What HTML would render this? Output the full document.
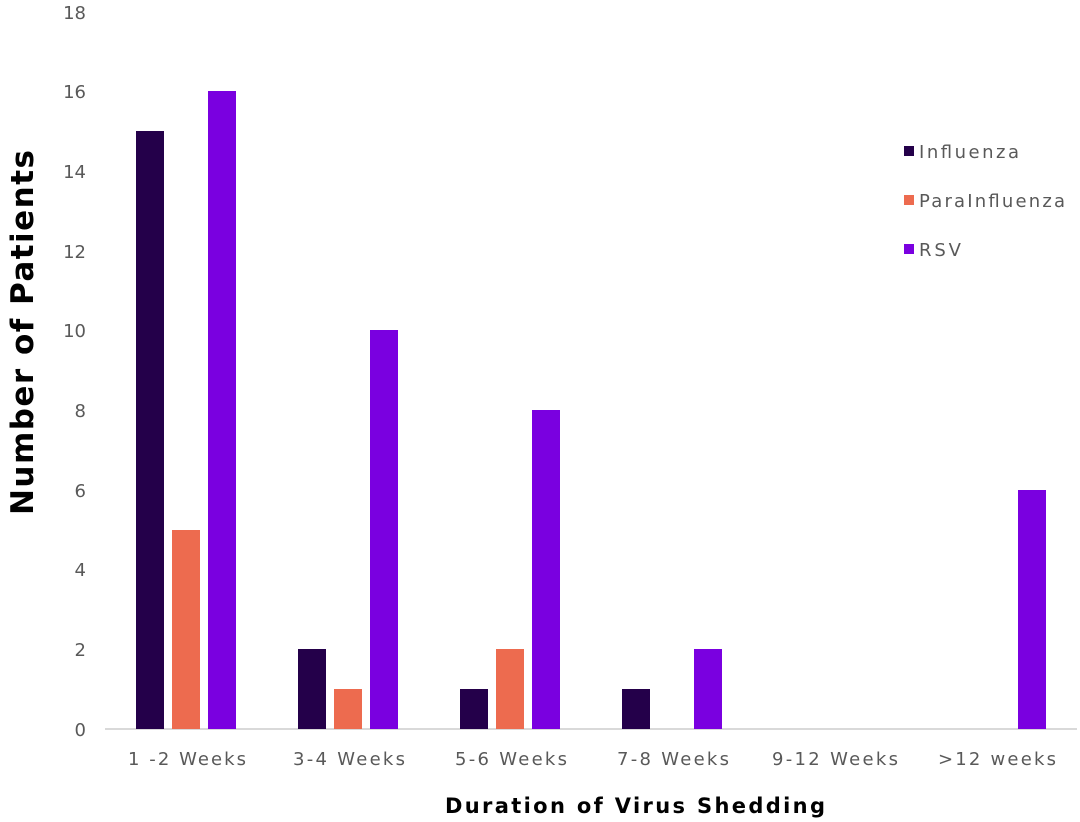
<!DOCTYPE html>
<html><head><meta charset="utf-8"><style>
html,body{margin:0;padding:0;background:#fff;}
svg{display:block;}
text{font-family:"DejaVu Sans","Liberation Sans",sans-serif;}
</style></head><body>
<svg width="1080" height="822" viewBox="0 0 1080 822" xmlns="http://www.w3.org/2000/svg">
<g fill="#595959" font-size="18" text-anchor="end">
<text x="86" y="736">0</text>
<text x="86" y="656">2</text>
<text x="86" y="576">4</text>
<text x="86" y="497">6</text>
<text x="86" y="417">8</text>
<text x="86" y="337">10</text>
<text x="86" y="258">12</text>
<text x="86" y="178">14</text>
<text x="86" y="98">16</text>
<text x="86" y="19">18</text>
</g>
<line x1="105" y1="729" x2="1077" y2="729" stroke="#d9d9d9" stroke-width="2"/>
<rect x="136" y="131" width="28" height="598" fill="#24004a"/>
<rect x="172" y="530" width="28" height="199" fill="#ed6b4f"/>
<rect x="208" y="91" width="28" height="638" fill="#7a00e0"/>
<rect x="298" y="649" width="28" height="80" fill="#24004a"/>
<rect x="334" y="689" width="28" height="40" fill="#ed6b4f"/>
<rect x="370" y="330" width="28" height="399" fill="#7a00e0"/>
<rect x="460" y="689" width="28" height="40" fill="#24004a"/>
<rect x="496" y="649" width="28" height="80" fill="#ed6b4f"/>
<rect x="532" y="410" width="28" height="319" fill="#7a00e0"/>
<rect x="622" y="689" width="28" height="40" fill="#24004a"/>
<rect x="694" y="649" width="28" height="80" fill="#7a00e0"/>
<rect x="1018" y="490" width="28" height="239" fill="#7a00e0"/>
<g fill="#595959" font-size="18">
<text x="128" y="765" textLength="118" lengthAdjust="spacing">1 -2 Weeks</text>
<text x="293" y="765" textLength="112" lengthAdjust="spacing">3-4 Weeks</text>
<text x="455" y="765" textLength="112" lengthAdjust="spacing">5-6 Weeks</text>
<text x="617" y="765" textLength="112" lengthAdjust="spacing">7-8 Weeks</text>
<text x="772" y="765" textLength="126" lengthAdjust="spacing">9-12 Weeks</text>
<text x="938" y="765" textLength="118" lengthAdjust="spacing">&gt;12 weeks</text>
</g>
<text x="445" y="813" textLength="380" lengthAdjust="spacing" font-size="21" font-weight="bold" fill="#000">Duration of Virus Shedding</text>
<text transform="translate(33,515) rotate(-90)" textLength="365" lengthAdjust="spacing" font-size="31" font-weight="bold" fill="#000">Number of Patients</text>
<rect x="904" y="146" width="10" height="10" fill="#24004a"/>
<rect x="904" y="195" width="10" height="10" fill="#ed6b4f"/>
<rect x="904" y="244" width="10" height="10" fill="#7a00e0"/>
<g fill="#595959" font-size="18">
<text x="919" y="158" textLength="100" lengthAdjust="spacing">Influenza</text>
<text x="919" y="207" textLength="146" lengthAdjust="spacing">ParaInfluenza</text>
<text x="919" y="256" textLength="42" lengthAdjust="spacing">RSV</text>
</g>
</svg>
</body></html>
